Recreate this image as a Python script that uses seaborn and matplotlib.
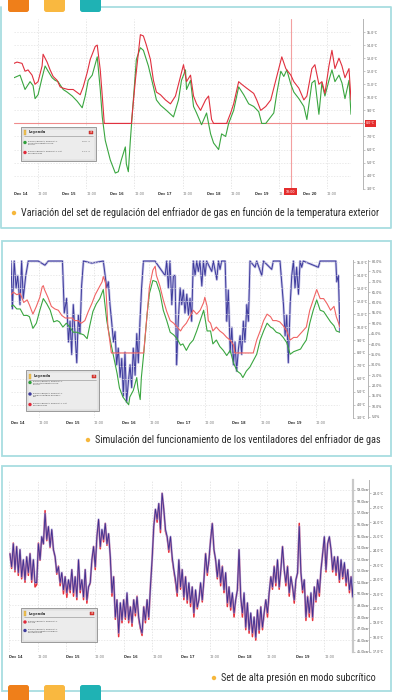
import numpy as np
import matplotlib
matplotlib.use('Agg')
import matplotlib.pyplot as plt
import matplotlib.transforms as mtransforms
from matplotlib import font_manager
from matplotlib.patches import Rectangle, FancyBboxPatch, Circle
import seaborn as sns

# ---------------- data ----------------
tick_names = ['Dec 14', '12:00', 'Dec 15', '12:00', 'Dec 16', '12:00', 'Dec 17',
              '12:00', 'Dec 18', '12:00', 'Dec 19', '12:00', 'Dec 20', '12:00']

# panel 1 : outdoor temperature (green) and gas cooler set (red), degC, hours from Dec 14 00:00
p1_out_h = [0, 3, 5.5, 8, 9.5, 10.5, 12, 14, 15.5, 17,
            19, 20.5, 22, 24.5, 26.5, 29, 31.5, 34, 35.5, 37,
            39, 41.5, 43, 44, 45.5, 48, 50.5, 52, 53.5, 55.5,
            56, 57, 58, 59.5, 61, 63, 64.5, 67, 69.5, 71,
            73, 76, 79.5, 82, 83.5, 85.5, 86, 88, 89.5, 91,
            93.5, 96, 98, 99.5, 102, 103.5, 105.5, 107, 109.5, 112,
            114.5, 117, 119.5, 122, 123.5, 125.5, 128, 129.5, 131, 133,
            134.5, 136, 138, 139.5, 142, 144.5, 146, 148.5, 150, 152,
            153.5, 155, 157, 158.5, 160, 162, 163.5, 165, 167, 168]
p1_out_t = [11.5, 11.7, 10.6, 11.2, 10.9, 9.9, 10.2, 11.5, 12.4, 12.0,
            11.5, 11.3, 11.2, 10.6, 10.4, 10.1, 9.7, 9.2, 10.1, 11.3,
            11.7, 13.1, 10.6, 8.5, 6.7, 5.2, 4.2, 4.3, 5.2, 6.2,
            4.9, 4.3, 6.7, 9.8, 12.9, 13.8, 13.6, 12.4, 10.8, 9.8,
            9.4, 9.0, 8.5, 9.8, 11.3, 12.1, 10.6, 11.3, 9.3, 8.8,
            7.9, 8.8, 7.2, 6.5, 6.0, 7.2, 7.0, 8.0, 9.0, 10.8,
            10.2, 9.5, 9.3, 8.9, 8.0, 8.0, 8.5, 8.8, 10.3, 12.0,
            11.6, 12.1, 11.0, 10.4, 9.9, 9.3, 8.3, 11.1, 11.3, 8.7,
            11.1, 10.1, 11.3, 12.1, 11.2, 11.7, 11.1, 9.9, 11.3, 8.7]
p1_set_h = [0, 1.5, 4, 5.5, 7, 9, 10.5, 12, 14, 14.5,
            16.5, 18, 19.5, 21.5, 23, 24.5, 27, 29.5, 33, 34.5,
            36.5, 38, 40.5, 41.5, 43, 44, 45, 58.5, 60.5, 62,
            63, 64.5, 66, 68, 69.5, 71, 73, 75.5, 78, 80.5,
            83, 84.5, 86, 88, 89.5, 91, 93, 95.5, 97, 98.5,
            99.5, 106, 108, 109.5, 112, 113.5, 116, 119.5, 121, 123,
            125.5, 128, 130.5, 132, 133.5, 135.5, 138, 139.5, 142, 144.5,
            146, 148.5, 150, 152, 153.5, 155, 157, 158.5, 160, 162,
            163.5, 165, 167, 168]
p1_set_t = [12.6, 12.7, 12.6, 12.0, 12.1, 11.7, 11.0, 11.2, 12.4, 13.3,
            12.7, 12.1, 11.6, 11.3, 10.8, 10.7, 10.6, 10.6, 10.2, 10.8,
            11.9, 12.9, 13.9, 14.0, 12.1, 10.1, 8.0, 8.0, 11.3, 13.4,
            14.8, 14.7, 14.0, 12.9, 11.3, 10.4, 10.2, 9.8, 9.5, 10.1,
            11.6, 12.5, 11.2, 11.7, 10.1, 9.5, 9.0, 9.8, 10.1, 8.3,
            8.0, 8.0, 8.8, 9.5, 11.2, 11.0, 10.7, 10.3, 9.8, 9.0,
            9.3, 9.8, 11.3, 12.2, 13.1, 12.2, 11.7, 11.2, 10.7, 9.8,
            10.1, 12.2, 12.5, 11.0, 11.2, 10.3, 12.4, 13.6, 12.2, 13.0,
            12.4, 11.5, 12.2, 9.8]

# panel 2 : outdoor temp (green), fan output % (blue), gas cooler set (red)
p2_out_h = [0, 1, 2.5, 4, 5.5, 7, 8, 9.5, 11, 12.5,
            14, 15.5, 17, 18.5, 20, 21, 22.5, 24, 25.5, 27,
            28.5, 30, 31.5, 33, 34, 35.5, 37, 38.5, 40, 41,
            41.5, 43, 44.5, 46, 47, 48.5, 51, 51.5, 53, 54.5,
            55, 56, 56.5, 57.5, 59, 60, 61.5, 63, 64.5, 66,
            67.5, 69, 70.5, 72, 73.5, 74.5, 76, 77.5, 79, 80.5,
            82, 83.5, 84, 85, 86.5, 87.5, 89, 90.5, 92, 93.5,
            95, 96.5, 98, 99.5, 100.5, 102, 103.5, 105, 106.5, 108,
            109.5, 111, 112.5, 113.5, 115, 116.5, 118, 119.5, 121, 122.5,
            124, 125.5, 126.5, 128, 129.5, 131, 132.5, 134, 135.5, 137,
            138.5, 140, 141, 142.5]
p2_out_t = [11.6, 11.7, 11.4, 11.4, 10.9, 10.9, 10.8, 9.9, 10.3, 11.3,
            12.2, 11.8, 11.3, 10.4, 10.5, 10.4, 10.0, 10.3, 10.0, 9.6,
            9.6, 9.5, 9.4, 9.1, 10.0, 11.2, 11.8, 12.2, 12.9, 11.3,
            10.5, 9.0, 7.7, 6.4, 5.3, 4.6, 4.0, 4.6, 5.1, 6.1,
            5.3, 4.4, 6.1, 7.9, 11.0, 12.6, 13.6, 13.5, 12.7, 11.3,
            10.5, 9.6, 9.4, 9.1, 8.6, 8.7, 8.2, 8.7, 9.0, 9.7,
            10.5, 11.3, 10.8, 9.7, 9.7, 8.7, 9.0, 8.5, 8.2, 7.8,
            8.2, 7.2, 6.6, 6.4, 6.1, 6.6, 6.9, 7.4, 7.9, 9.0,
            9.7, 10.3, 10.0, 9.9, 9.6, 9.5, 9.2, 8.8, 7.9, 8.1,
            8.2, 8.3, 8.6, 9.0, 10.3, 11.3, 12.1, 11.3, 11.2, 10.8,
            10.4, 10.1, 9.7, 9.6]
p2_fan_h = [0.0, 0.6, 1.4, 2.2, 2.9, 3.9, 4.6, 5.3, 6.4, 7.5,
            11.8, 14.7, 16.2, 22.3, 23.1, 24.1, 24.9, 25.6, 26.3, 27.0,
            27.7, 28.5, 29.2, 29.9, 30.6, 31.4, 35.0, 40.0, 40.8, 41.5,
            42.2, 42.9, 43.6, 44.4, 45.1, 45.8, 46.5, 47.3, 48.0, 48.7,
            49.4, 50.1, 50.9, 51.6, 52.3, 53.0, 53.8, 54.5, 55.2, 55.9,
            56.6, 57.4, 62.4, 66.8, 67.5, 68.2, 68.9, 69.7, 70.4, 71.1,
            71.8, 72.5, 73.3, 74.0, 74.7, 75.4, 76.2, 76.9, 77.6, 78.3,
            79.0, 79.8, 80.5, 81.2, 81.9, 82.7, 83.4, 84.1, 84.8, 87.0,
            87.7, 89.2, 89.9, 90.6, 91.3, 92.8, 93.5, 94.2, 95.0, 95.7,
            96.4, 97.1, 97.8, 98.6, 99.3, 100.0, 100.7, 101.4, 102.2, 102.9,
            103.6, 105.8, 106.5, 108.7, 109.4, 113.0, 113.7, 116.6, 117.3, 118.1,
            118.8, 119.5, 120.2, 121.0, 121.7, 122.4, 123.1, 123.8, 124.6, 125.3,
            126.0, 126.7, 133.2, 134.0, 140.8, 141.2, 141.9, 142.6]
p2_fan_pct = [80, 57, 80, 67, 73, 59, 80, 62, 73, 80,
              80, 78, 80, 80, 55, 62, 41, 51, 35, 59,
              46, 31, 54, 45, 68, 80, 79, 80, 73, 67,
              70, 59, 51, 41, 46, 30, 38, 24, 33, 15,
              36, 12, 22, 30, 19, 38, 25, 45, 31, 51,
              67, 80, 80, 73, 80, 67, 80, 59, 73, 73,
              30, 51, 67, 59, 66, 55, 64, 54, 62, 51,
              80, 73, 80, 75, 80, 68, 80, 73, 80, 75,
              80, 71, 80, 76, 80, 80, 51, 66, 36, 48,
              30, 41, 27, 38, 44, 35, 51, 41, 59, 51,
              80, 77, 80, 73, 80, 76, 80, 80, 70, 59,
              44, 54, 31, 59, 73, 80, 67, 77, 64, 80,
              77, 80, 77, 80, 80, 70, 73, 46]
p2_set_h = [0, 1, 2.5, 4, 5.5, 7, 8, 9.5, 11, 12.5,
            13.5, 14, 14.5, 16, 17.5, 19, 20.5, 22, 23.5, 25,
            26.5, 27.5, 29, 30.5, 32, 33.5, 35, 36.5, 38, 39.5,
            40, 41, 41.5, 42, 43, 43.5, 57.5, 59, 60, 61.5,
            62.5, 63, 64.5, 66, 67.5, 69, 70.5, 72, 73.5, 74.5,
            76, 77.5, 79, 80.5, 82, 83.5, 84, 85, 85.5, 86.5,
            87.5, 89, 90.5, 92, 93.5, 95, 96.5, 97, 105, 106.5,
            108, 109.5, 111, 112.5, 113.5, 115, 116.5, 118, 119.5, 121,
            122.5, 124, 125.5, 126.5, 128, 129.5, 131, 132.5, 134, 135.5,
            137, 138.5, 140, 141, 142, 142.5]
p2_set_t = [12.5, 12.7, 12.5, 12.6, 11.9, 12.1, 11.7, 11.0, 11.6, 12.3,
            13.1, 13.2, 12.9, 12.3, 11.6, 11.4, 11.3, 10.9, 10.7, 10.7,
            10.7, 10.5, 10.5, 10.3, 10.5, 11.2, 11.8, 12.5, 13.0, 13.5,
            13.9, 13.4, 11.8, 10.0, 8.7, 8.0, 8.0, 11.0, 13.1, 14.4,
            14.7, 14.0, 13.2, 12.1, 11.2, 10.5, 10.3, 10.0, 9.7, 10.0,
            10.3, 10.8, 11.3, 11.0, 11.3, 11.9, 12.3, 11.6, 10.5, 10.3,
            9.7, 10.0, 9.7, 9.5, 9.2, 9.0, 8.6, 8.0, 8.0, 9.0,
            9.7, 10.5, 11.0, 10.8, 10.5, 10.5, 10.4, 10.1, 9.7, 9.0,
            9.2, 9.2, 9.5, 9.7, 10.0, 11.3, 12.1, 12.9, 12.2, 12.2,
            11.8, 11.3, 11.6, 10.8, 10.3, 10.0]

# panel 3 : HP set (bar, red) and gas cooler outlet temperature 2 (degC, blue),
# samples every ~42 min from Dec 14 00:25
p3_hp_bar = [53.5, 52.2, 54.4, 51.9, 54.1, 51.6, 53.8, 51.3, 52.9, 51.0,
             53.2, 51.6, 53.5, 51.0, 52.9, 50.6, 50.8, 54.4, 52.9, 54.9,
             54.3, 57.2, 54.6, 55.8, 54.0, 55.5, 53.8, 53.2, 51.7, 52.4,
             50.7, 51.8, 50.0, 51.5, 49.7, 51.2, 50.1, 52.1, 49.8, 51.5,
             49.5, 52.9, 50.1, 51.2, 49.5, 52.1, 49.2, 50.6, 50.9, 52.9,
             54.1, 52.1, 54.9, 56.4, 53.9, 55.5, 54.5, 56.1, 54.2, 55.2,
             53.2, 49.8, 51.5, 47.8, 49.5, 46.3, 49.2, 47.5, 49.5, 47.8,
             50.0, 47.5, 48.9, 47.2, 49.5, 48.1, 49.8, 47.8, 47.0, 46.4,
             48.9, 47.5, 49.5, 47.8, 50.6, 52.9, 55.8, 57.3, 56.2, 57.8,
             55.3, 58.7, 57.3, 55.4, 54.9, 53.6, 54.9, 53.0, 52.0, 51.0,
             49.8, 52.9, 50.4, 52.1, 49.5, 51.5, 49.2, 50.9, 48.9, 50.6,
             48.0, 50.3, 48.7, 49.5, 50.9, 49.3, 51.2, 53.5, 51.6, 52.9,
             54.7, 56.1, 53.8, 52.9, 51.3, 52.9, 50.7, 52.4, 50.1, 51.8,
             48.9, 50.6, 48.6, 50.0, 48.0, 49.5, 50.3, 53.8, 49.8, 48.0,
             50.0, 46.9, 49.2, 46.6, 48.3, 46.3, 48.0, 46.0, 48.6, 46.6,
             48.9, 46.9, 48.3, 49.5, 48.0, 50.0, 51.5, 50.4, 52.4, 50.7,
             52.9, 50.4, 52.1, 54.1, 52.1, 50.7, 52.4, 49.8, 51.5, 50.6,
             49.2, 51.2, 51.8, 56.1, 51.8, 50.1, 51.2, 47.7, 49.8, 48.0,
             50.0, 47.7, 50.6, 49.3, 51.2, 49.8, 52.1, 53.5, 54.9, 51.9,
             54.4, 54.9, 53.8, 51.9, 53.2, 51.6, 53.2, 51.0, 52.9, 51.3,
             52.6, 50.7, 52.1, 50.1, 51.5, 49.5, 53.8]
p3_gc_out = [23.8, 22.9, 24.5, 22.7, 24.3, 22.5, 24.1, 22.2, 23.4, 22.0,
             23.6, 22.5, 23.8, 22.0, 23.4, 21.8, 21.8, 24.5, 23.4, 25.0,
             24.5, 26.6, 24.8, 25.7, 24.3, 25.5, 24.1, 23.6, 22.5, 22.9,
             21.8, 22.5, 21.3, 22.2, 21.1, 22.0, 21.3, 22.7, 21.1, 22.2,
             20.8, 23.4, 21.3, 22.0, 20.8, 22.7, 20.6, 21.5, 21.8, 23.4,
             24.3, 22.9, 25.0, 26.2, 24.3, 25.5, 24.8, 25.9, 24.5, 25.2,
             23.6, 21.1, 22.2, 19.4, 20.6, 18.3, 20.4, 19.2, 20.6, 19.4,
             21.1, 19.2, 20.1, 19.0, 20.6, 19.7, 20.8, 19.4, 18.7, 18.3,
             20.1, 19.2, 20.6, 19.4, 21.5, 23.4, 25.7, 26.9, 26.2, 27.3,
             25.5, 28.0, 26.9, 25.5, 25.0, 24.1, 25.0, 23.6, 22.7, 22.0,
             21.1, 23.4, 21.5, 22.7, 20.8, 22.2, 20.6, 21.8, 20.4, 21.5,
             19.7, 21.3, 20.1, 20.6, 21.8, 20.6, 22.0, 23.8, 22.5, 23.4,
             24.8, 25.9, 24.1, 23.4, 22.2, 23.4, 21.8, 22.9, 21.3, 22.5,
             20.4, 21.5, 20.1, 21.1, 19.7, 20.6, 21.3, 24.1, 20.8, 19.7,
             21.1, 18.7, 20.4, 18.5, 19.7, 18.3, 19.4, 18.0, 19.9, 18.5,
             20.1, 18.7, 19.7, 20.6, 19.7, 21.1, 22.2, 21.5, 22.9, 21.8,
             23.4, 21.5, 22.7, 24.3, 22.7, 21.8, 22.9, 21.1, 22.2, 21.5,
             20.6, 22.0, 22.5, 25.7, 22.5, 21.3, 22.0, 19.4, 20.8, 19.7,
             21.1, 19.4, 21.5, 20.6, 22.0, 21.1, 22.7, 23.8, 25.0, 22.7,
             24.5, 25.0, 24.1, 22.7, 23.6, 22.5, 23.6, 22.0, 23.4, 22.2,
             23.2, 21.8, 22.7, 21.3, 22.2, 20.8, 24.1]
p3_h = np.arange(len(p3_gc_out)) * 0.7 + 0.4

legend1 = [('#2e9e3a', 'BWCR CENTRAL POSITIVA 1\nSonda temperatura aire\nexterior', '10.6 °C'),
           ('#e02a3a', 'BWCR CENTRAL POSITIVA 1 Set\nenfriador gas', '11.4 °C')]
legend2 = [('#2e9e3a', 'BWCR CENTRAL POSITIVA 1\nSonda temperatura aire\nexterior', ''),
           ('#3d3a9c', 'BWCR CENTRAL POSITIVA 1\nSalida analógica enfriador\ngas', ''),
           ('#e02a3a', 'BWCR CENTRAL POSITIVA 1 Set\nenfriador gas', '')]
legend3 = [('#e02a3a', 'BWCR CENTRAL POSITIVA 1\nSet HP', ''),
           ('#3d3a9c', 'BWCR CENTRAL POSITIVA 1\nSonda temperatura salida 2\nenfriador gas', '')]

cap1 = 'Variación del set de regulación del enfriador de gas en función de la temperatura exterior'
cap2 = 'Simulación del funcionamiento de los ventiladores del enfriador de gas'
cap3 = 'Set de alta presión en modo subcrítico'

# ---------------- style ----------------
sns.set_style('white')
plt.rcParams['font.family'] = ['DejaVu Sans']
names = {f.name for f in font_manager.fontManager.ttflist}
cap_font = 'DejaVu Sans'
for cand in ['Roboto Condensed', 'Liberation Sans Narrow', 'Roboto']:
    if cand in names:
        cap_font = cand
        break

W, H = 393, 700
fig = plt.figure(figsize=(W / 100, H / 100), dpi=100)

bg = fig.add_axes([0, 0, 1, 1], zorder=0)
bg.set_xlim(0, W)
bg.set_ylim(H, 0)
bg.axis('off')

top = fig.add_axes([0, 0, 1, 1], zorder=20)
top.set_xlim(0, W)
top.set_ylim(H, 0)
top.axis('off')
top.patch.set_alpha(0)


def px_axes(x0, y0, x1, y1):
    ax = fig.add_axes([x0 / W, 1 - y1 / H, (x1 - x0) / W, (y1 - y0) / H], zorder=2)
    ax.patch.set_alpha(0)
    return ax


def time_axis(ax, xmax, n, all_grid=False):
    ax.set_xlim(0, xmax)
    ticks = np.arange(n) * 12
    ax.set_xticks(ticks)
    ax.set_xticklabels(tick_names[:n])
    for lbl, t in zip(ax.get_xticklabels(), ticks):
        lbl.set_ha('left')
        lbl.set_fontsize(2.5)
        if t % 24 == 0:
            lbl.set_fontweight('bold')
            lbl.set_color('#333333')
        else:
            lbl.set_color('#777777')
    ax.tick_params(axis='x', length=0, pad=2.2)
    ax.set_xlabel('')
    for t in ticks:
        if all_grid or t % 24 == 12:
            ax.axvline(t, color='#dcdcdc', lw=0.5, ls=(0, (2, 2)), zorder=0)


def right_axis(ax, ylim, ticks, fmt, pos, spine_color='#b5b5b5', spine_lw=0.7):
    ax.set_ylim(*ylim)
    ax.yaxis.tick_right()
    ax.yaxis.set_label_position('right')
    ax.set_yticks(ticks)
    ax.set_yticklabels([fmt.format(v) for v in ticks])
    for s in ['top', 'left', 'bottom']:
        ax.spines[s].set_visible(False)
    ax.spines['right'].set_visible(True)
    ax.spines['right'].set_position(('axes', pos))
    ax.spines['right'].set_color(spine_color)
    ax.spines['right'].set_linewidth(spine_lw)
    ax.tick_params(axis='y', length=1.2, width=0.4, color='#999999', labelsize=2.3,
                   labelcolor='#555555', pad=1.2)
    ax.set_ylabel('')


def hgrid(ax, ticks):
    for v in ticks:
        ax.axhline(v, color='#e2e2e2', lw=0.5, ls=(0, (2, 2)), zorder=0)


def draw_legend(x0, y0, w, h, entries, title_dy, entry_ys):
    top.add_patch(Rectangle((x0, y0), w, h, fc='#e6e6e6', ec='#8c8c8c', lw=0.6, zorder=1))
    top.add_patch(Rectangle((x0 + 1.5, y0 + 1.5), w - 3, h - 3, fc='#ececec', ec='#c8c8c8', lw=0.3, zorder=1))
    ty = y0 + title_dy
    top.add_patch(Rectangle((x0 + 3, ty - 2.2), 2.2, 4.4, fc='#f3c14a', ec='#c9a24a', lw=0.3, zorder=2))
    top.text(x0 + 7.5, ty, 'Leyenda', fontsize=2.6, color='#333333', va='center', ha='left',
             fontweight='bold', zorder=3)
    top.add_patch(Rectangle((x0 + w - 7, ty - 1.8), 3.6, 3.6, fc='#e23a32', ec='#a82020', lw=0.3, zorder=2))
    top.text(x0 + w - 5.2, ty, '×', fontsize=2.2, color='white', va='center', ha='center', zorder=3)
    top.plot([x0 + 3, x0 + w - 3], [ty + 3.6, ty + 3.6], color='#8a8a8a', lw=0.4, zorder=2)
    for (col, lab, val), ey in zip(entries, entry_ys):
        top.add_patch(Circle((x0 + 4, y0 + ey), 1.7, fc=col, ec='none', zorder=3))
        top.text(x0 + 7, y0 + ey - 1.4, lab, fontsize=1.5, color='#444444', va='top', ha='left',
                 linespacing=1.2, zorder=3)
        if val:
            top.text(x0 + w - 14, y0 + ey - 1.4, val, fontsize=1.5, color='#444444', va='top',
                     ha='left', zorder=3)


# ---------------- frames, tabs ----------------
frame_c = '#a8dde0'
bg.plot([100, 391, 391, 1, 1], [7, 7, 228, 228, 7], color=frame_c, lw=1.3)
bg.add_patch(Rectangle((1.5, 240.5), 389.3, 215, fill=False, ec=frame_c, lw=1.3))
bg.add_patch(Rectangle((1.5, 466), 389.3, 225, fill=False, ec=frame_c, lw=1.3))
for xa, col in [(8, '#ef7f1a'), (44, '#f9b840'), (80, '#1fb2b4')]:
    bg.add_patch(FancyBboxPatch((xa, -4), 21, 16, boxstyle='round,pad=0,rounding_size=2.5',
                                fc=col, ec='none', zorder=5))
    bg.add_patch(FancyBboxPatch((xa, 685), 21, 18, boxstyle='round,pad=0,rounding_size=2.5',
                                fc=col, ec='none', zorder=5))

# ---------------- panel 1 ----------------
ax1 = px_axes(14, 19, 351, 188.7)
sns.lineplot(x=p1_out_h, y=p1_out_t, ax=ax1, color='#3aa640', lw=0.8, sort=False, estimator=None)
sns.lineplot(x=p1_set_h, y=p1_set_t, ax=ax1, color='#e0303e', lw=0.8, sort=False, estimator=None)
yt1 = np.arange(3, 16, 1.0)
right_axis(ax1, (3, 16), yt1, '{:.1f}°C', 1.036)
labs = [l.get_text() for l in ax1.get_yticklabels()]
labs[list(yt1).index(8.0)] = ''
ax1.set_yticklabels(labs)
hgrid(ax1, yt1)
time_axis(ax1, 168, 14)
ax1.axhline(8.0, xmin=0, xmax=1.036, color='#f08c8c', lw=0.8, clip_on=False, zorder=1)
ax1.axvline(138, color='#f3a0a0', lw=0.8, zorder=1)
tr = mtransforms.blended_transform_factory(ax1.transAxes, ax1.transData)
ax1.text(1.045, 8.0, '8.0°C', transform=tr, fontsize=2.3, color='white', ha='left', va='center',
         bbox=dict(boxstyle='square,pad=0.35', fc='#e42d2d', ec='none'), clip_on=False)
tr2 = mtransforms.blended_transform_factory(ax1.transData, ax1.transAxes)
ax1.text(138, -0.018, '18:00', transform=tr2, fontsize=2.3, color='white', ha='center', va='center',
         bbox=dict(boxstyle='square,pad=0.5', fc='#e42d2d', ec='none'), clip_on=False, zorder=5)
draw_legend(21, 127, 75, 34, legend1, 5.5, [15.5, 25.5])

# ---------------- panel 2 ----------------
ax2p = px_axes(11, 260, 340, 417.7)
ax2c = ax2p.twinx()
ax2c.patch.set_alpha(0)
sns.lineplot(x=p2_fan_h, y=p2_fan_pct, ax=ax2p, color='#9c98d4', lw=1.8, alpha=0.6, sort=False, estimator=None)
sns.lineplot(x=p2_fan_h, y=p2_fan_pct, ax=ax2p, color='#3d3a9c', lw=0.7, sort=False, estimator=None)
sns.lineplot(x=p2_out_h, y=p2_out_t, ax=ax2c, color='#3aa640', lw=0.8, sort=False, estimator=None)
sns.lineplot(x=p2_set_h, y=p2_set_t, ax=ax2c, color='#f06464', lw=0.8, sort=False, estimator=None)
yt2 = np.arange(3, 16, 1.0)
right_axis(ax2c, (3, 15.18), yt2, '{:.1f}°C', 1.0395)
right_axis(ax2p, (4.5, 80.5), np.arange(5, 81, 5.0), '{:.1f}%', 1.085)
hgrid(ax2c, yt2)
time_axis(ax2p, 142.6, 12)
ax2c.set_xlim(0, 142.6)
ax2c.tick_params(axis='x', bottom=False, labelbottom=False)
draw_legend(26, 370, 73, 41, legend2, 6.5, [12.5, 24, 34.5])

# ---------------- panel 3 ----------------
ax3b = px_axes(9, 480, 353, 651.7)
ax3c = ax3b.twinx()
ax3c.patch.set_alpha(0)
sns.lineplot(x=p3_h, y=p3_hp_bar, ax=ax3b, color='#e8303a', lw=1.1, sort=False, estimator=None)
sns.lineplot(x=p3_h, y=p3_gc_out, ax=ax3c, color='#a79fdc', lw=1.6, alpha=0.65, sort=False, estimator=None)
sns.lineplot(x=p3_h, y=p3_gc_out, ax=ax3c, color='#3b2f93', lw=0.6, sort=False, estimator=None)
yt3b = np.arange(45, 60, 1.0)
yt3c = np.arange(17, 29, 1.0)
right_axis(ax3b, (45, 59.85), yt3b, '{:.1f}bar', 1.0, spine_color='#c9c9c9', spine_lw=1.6)
right_axis(ax3c, (17, 28.93), yt3c, '{:.1f}°C', 1.0465)
hgrid(ax3b, yt3b)
time_axis(ax3b, 144, 12, all_grid=True)
ax3c.set_xlim(0, 144)
ax3c.tick_params(axis='x', bottom=False, labelbottom=False)
draw_legend(21, 608, 76, 34, legend3, 5.5, [14, 22.5])

# ---------------- captions ----------------
dot_c = '#f6b73c'
t1 = bg.text(21, 213, cap1, fontsize=8, family=cap_font, color='#2b2b2b', va='center', ha='left')
fig.canvas.draw()
bb = t1.get_window_extent(renderer=fig.canvas.get_renderer())
fs = 8 * 353 / bb.width
t1.set_fontsize(fs)
bg.text(95, 440, cap2, fontsize=fs, family=cap_font, color='#2b2b2b', va='center', ha='left')
bg.text(221, 678, cap3, fontsize=fs, family=cap_font, color='#2b2b2b', va='center', ha='left')
for cx, cy in [(14, 213), (88, 440), (214, 678)]:
    bg.add_patch(Circle((cx, cy), 2.2, fc=dot_c, ec='none'))

fig.savefig('out.png', dpi=100)
